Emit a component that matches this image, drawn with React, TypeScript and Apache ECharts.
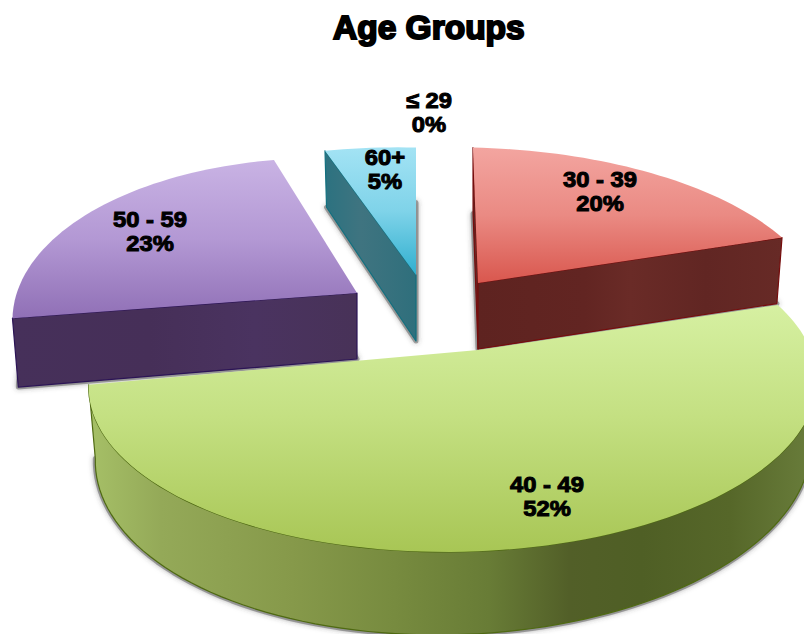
import React, { useEffect, useRef } from "react";
import * as echarts from "echarts";

// Share of respondents per age band, in percent
const categories = ["≤ 29", "30 - 39", "40 - 49", "50 - 59", "60+"];
const shares = [0, 20, 52, 23, 5];
const chartTitle = "Age Groups";

// Cumulative start of every band, clockwise from twelve o'clock
const starts = shares.map((_, i) => shares.slice(0, i).reduce((a, b) => a + b, 0));

// Painting order: far slices first, the big front slice last
const paintOrder = [0, 4, 3, 1, 2];

// Plane-to-screen projection of the unit disc (tilt plus perspective)
const PROJ = { ax: 355, ay: -1, by: -161, p: 0.068, q: 0.2 };
const WALL = 66;
const WALL_LEAN = 0.017;

// Exploded position and small per-slice corrections of the projection
const sliceLayout = [
  { apex: [429, 246], sx: 1, sy: 1, shear: 0, skew: 0, wallPersp: 1, labelAt: [0, -134] },
  { apex: [478, 283], sx: 1.02, sy: 1.01, shear: 0, skew: 0.037, wallPersp: 0, labelAt: [122, -92] },
  { apex: [478, 350], sx: 1, sy: 1, shear: 0, skew: 0, wallPersp: 1, labelAt: [69, 146] },
  { apex: [357, 293], sx: 0.885, sy: 1, shear: 0.028, skew: 0, wallPersp: 0.4, labelAt: [-207, -62] },
  { apex: [416, 275], sx: 0.97, sy: 0.95, shear: 0, skew: 0, wallPersp: 1, labelAt: [-31, -106] },
];

const grad = (x2: number, y2: number, stops: [number, string][]) =>
  new echarts.graphic.LinearGradient(
    0,
    0,
    x2,
    y2,
    stops.map(([offset, color]) => ({ offset, color }))
  );

const sliceSkin = [
  null,
  {
    top: grad(0, 1, [[0, "#f3a5a0"], [0.5, "#ea8a83"], [1, "#d9574e"]]),
    wall: grad(1, 0, [[0, "#5e2320"], [0.35, "#622522"], [0.5, "#6a2b27"], [0.75, "#612623"], [1, "#672a26"]]),
    edge: "#760c0c",
  },
  {
    top: grad(0, 1, [[0, "#d6f0a2"], [0.45, "#c4e082"], [1, "#a8c655"]]),
    wall: grad(1, 0, [[0, "#a6c067"], [0.1, "#94a958"], [0.28, "#86994a"], [0.42, "#778b3f"], [0.55, "#687c36"], [0.66, "#525f28"], [0.76, "#4f5f25"], [0.88, "#566729"], [1, "#6a7e3c"]]),
    edge: "#4f6a12",
  },
  {
    top: grad(0, 1, [[0, "#c9b3e4"], [0.5, "#b398d4"], [1, "#9070b6"]]),
    wall: grad(1, 0, [[0, "#46305a"], [0.4, "#462f58"], [0.7, "#4a3360"], [1, "#483258"]]),
    edge: "#2c1456",
  },
  {
    top: grad(0, 1, [[0, "#a3e3f4"], [0.5, "#7fd3e9"], [1, "#30afcf"]]),
    wall: grad(1, 0, [[0, "#2c7280"], [0.4, "#3f7480"], [1, "#2f6f7c"]]),
    edge: "#12707f",
  },
];

// Maps an angle (degrees clockwise from twelve o'clock) to an offset from the slice apex
function project(deg: number, layout: (typeof sliceLayout)[number]) {
  const t = (deg * Math.PI) / 180;
  const x = Math.sin(t);
  const y = Math.cos(t);
  const w = 1 + PROJ.p * x + PROJ.q * y;
  const py = (layout.sy * (PROJ.ay * x + PROJ.by * y)) / w;
  const dx = (layout.sx * PROJ.ax * x) / w + layout.skew * py;
  const dy = py + layout.shear * dx;
  return { dx, dy, w };
}

function renderSlice(params: any, api: any) {
  const band = paintOrder[params.dataIndex];
  const share = api.value(0);
  const start = api.value(1);
  const skin = sliceSkin[band];
  if (!share || !skin) return { type: "group", children: [] };

  const layout = sliceLayout[band];
  const [cx, cy] = layout.apex;
  const steps = Math.max(8, Math.round(share * 2));

  // Outline of the top face, clockwise, closed at the apex
  const outline: { x: number; y: number; bx: number; by: number }[] = [
    { x: cx, y: cy, bx: cx, by: cy + WALL },
  ];
  for (let i = 0; i <= steps; i++) {
    const deg = ((start + (share * i) / steps) / 100) * 360;
    const { dx, dy, w } = project(deg, layout);
    outline.push({
      x: cx + dx,
      y: cy + dy,
      bx: cx + dx * (1 - WALL_LEAN),
      by: cy + dy + WALL / Math.pow(w, layout.wallPersp),
    });
  }
  outline.push(outline[0]);

  // A soft grey halo around the slice's foot
  const shadow = {
    type: "polygon",
    shape: { points: outline.slice(0, -1).map((p) => [p.bx, p.by]) },
    style: {
      fill: "rgba(110,110,110,0.6)",
      stroke: "rgba(110,110,110,0.6)",
      lineWidth: 5,
      lineJoin: "round",
      shadowColor: "rgba(60,60,60,0.6)",
      shadowBlur: 5,
    },
  };

  // A wall is visible only where the outline runs right to left on screen
  const walls: any[] = [];
  let run: typeof outline = [];
  const flush = () => {
    if (run.length > 1) {
      const pts = [
        ...run.map((p) => [p.x, p.y]),
        ...run.slice().reverse().map((p) => [p.bx, p.by]),
      ];
      walls.push({
        type: "polygon",
        shape: { points: pts },
        style: {
          fill: skin.wall,
          stroke: skin.edge,
          lineWidth: 1.2,
          lineJoin: "round",
        },
      });
    }
    run = [];
  };
  for (let i = 0; i < outline.length - 1; i++) {
    const a = outline[i];
    const b = outline[i + 1];
    if (b.x < a.x) {
      if (!run.length) run.push(a);
      run.push(b);
    } else {
      flush();
    }
  }
  flush();

  return {
    type: "group",
    children: [
      shadow,
      ...walls,
      {
        type: "polygon",
        shape: { points: outline.slice(0, -1).map((p) => [p.x, p.y]) },
        style: { fill: skin.top },
      },
    ],
  };
}

function renderLabel(params: any, api: any) {
  const band = params.dataIndex;
  const layout = sliceLayout[band];
  return {
    type: "text",
    x: layout.apex[0] + layout.labelAt[0],
    y: layout.apex[1] + layout.labelAt[1],
    scaleX: 1.08,
    style: {
      text: `${categories[band]}\n${api.value(0)}%`,
      fontFamily: '"Liberation Sans", Arial, sans-serif',
      fontWeight: "bold",
      fontSize: 22,
      lineHeight: 24,
      fill: "#000",
      stroke: "#000",
      lineWidth: 1,
      align: "center",
      verticalAlign: "middle",
    },
  };
}

export default function App() {
  const ref = useRef<HTMLDivElement>(null);
  useEffect(() => {
    const chart = echarts.init(ref.current!, undefined, { renderer: "svg" });
    chart.setOption({
      animation: false,
      backgroundColor: "#fff",
      title: {
        text: chartTitle,
        left: 333,
        top: 10,
        padding: 0,
        textStyle: {
          fontFamily: '"Liberation Sans", Arial, sans-serif',
          fontWeight: "bold",
          fontSize: 33.5,
          color: "#000",
          textBorderColor: "#000",
          textBorderWidth: 2,
        },
      },
      series: [
        {
          type: "custom",
          coordinateSystem: "none",
          clip: false,
          silent: true,
          data: paintOrder.map((i) => [shares[i], starts[i]]),
          renderItem: renderSlice,
        },
        {
          type: "custom",
          coordinateSystem: "none",
          z: 5,
          silent: true,
          data: shares.map((v) => [v]),
          renderItem: renderLabel,
        },
      ],
    });
    return () => chart.dispose();
  }, []);
  return (
    <div
      ref={ref}
      style={{ position: "absolute", left: 0, top: 0, width: 804, height: 634 }}
    />
  );
}
